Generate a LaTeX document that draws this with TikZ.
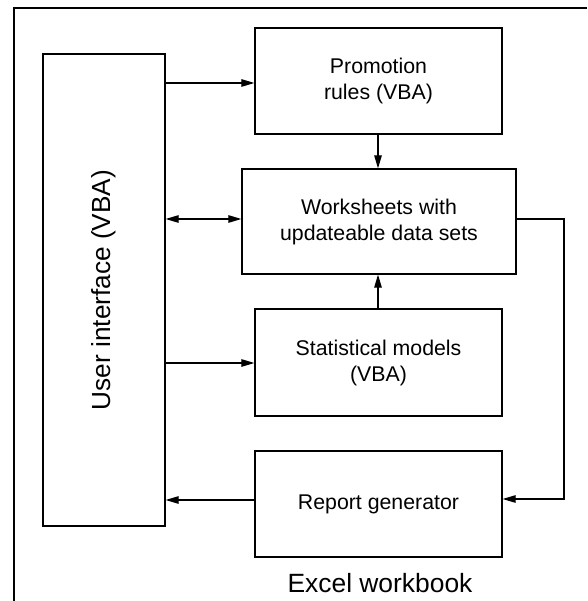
\documentclass[tikz,border=0pt]{standalone}
\usepackage{fontspec}
\setmainfont{Liberation Sans}
\usetikzlibrary{arrows.meta}
\begin{document}
\begin{tikzpicture}[x=1pt,y=-1pt,
  box/.style={draw=black,line width=1.3pt,align=center,inner sep=0pt,
    font=\fontsize{21.3}{26}\selectfont},
  conn/.style={line width=1.2pt,draw=black},
  tip/.style={-{Triangle[length=13pt,width=7.5pt]}},
  both/.style={{Triangle[length=13pt,width=7.5pt]}-{Triangle[length=13pt,width=7.5pt]}}]
\useasboundingbox (0,0) rectangle (587,601);
\draw[conn] (14,601) -- (14,8) -- (587,8);
\node[box,minimum width=122pt,minimum height=472pt] (ui) at (104,290)
  {\rotatebox{90}{\fontsize{26.2}{31}\selectfont User interface (VBA)}};
\node[box,minimum width=247pt,minimum height=106pt] (promo) at (378.5,81) {Promotion\\rules (VBA)};
\node[box,minimum width=274pt,minimum height=105pt] (ws) at (379,221.5) {Worksheets with\\updateable data sets};
\node[box,minimum width=247pt,minimum height=107pt] (stat) at (378.5,362.5) {Statistical models\\(VBA)};
\node[box,minimum width=247pt,minimum height=106pt] (rep) at (378.5,504) {Report generator};
\node[anchor=base,inner sep=0pt,font=\fontsize{26.4}{30}\selectfont] (wb) at (380,592) {Excel workbook};
\coordinate (rc) at (564,219);
\draw[conn,tip] (ui.east |- 0,83) -- (promo.west |- 0,83);
\draw[conn,tip] (promo.south -| 378,0) -- (ws.north -| 378,0);
\draw[conn,both] (ui.east |- 0,219) -- (ws.west |- 0,219);
\draw[conn,tip] (stat.north -| 378,0) -- (ws.south -| 378,0);
\draw[conn,tip] (ui.east |- 0,363) -- (stat.west |- 0,363);
\draw[conn,tip] (ws.east |- rc) -- (rc) -- (rc |- 0,499) -- (rep.east |- 0,499);
\draw[conn,tip] (rep.west |- 0,500) -- (ui.east |- 0,500);
\end{tikzpicture}
\end{document}
